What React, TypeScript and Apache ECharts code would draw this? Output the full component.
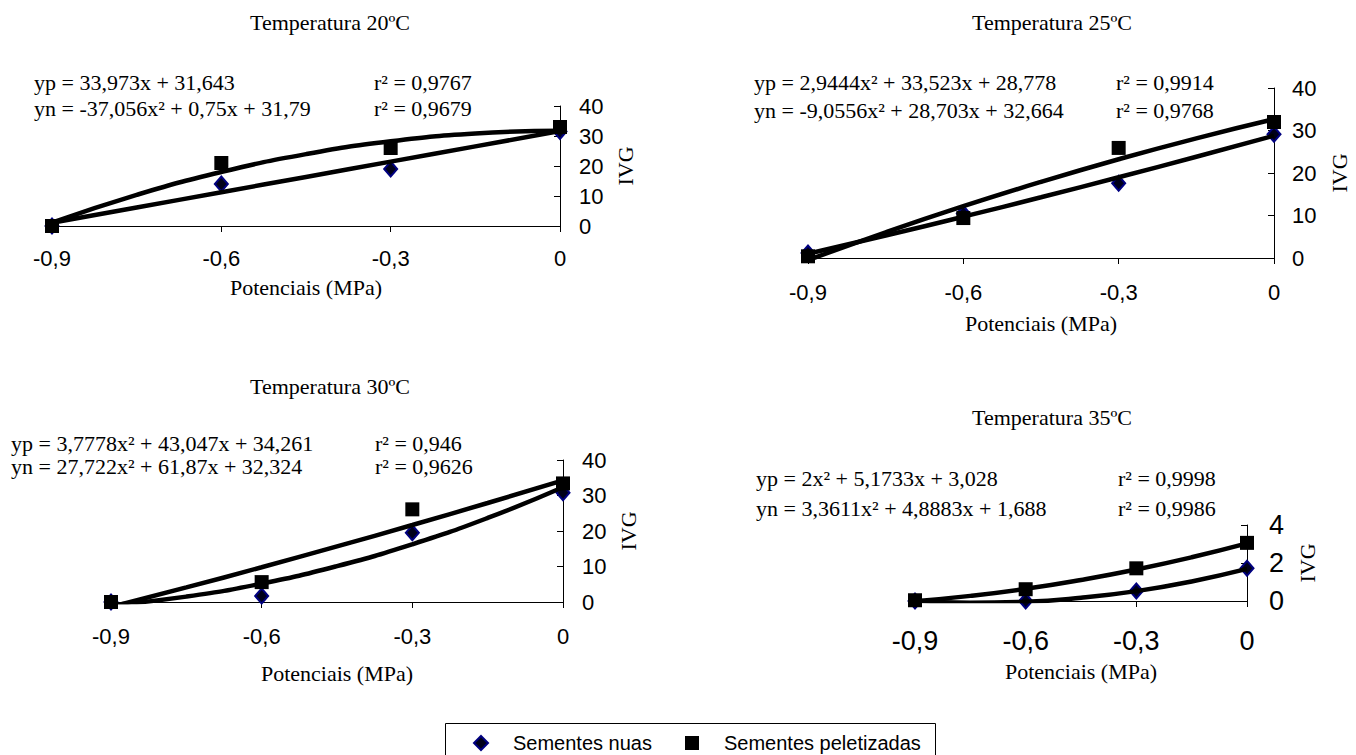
import React, { useEffect, useRef } from "react";
import * as echarts from "echarts";

// ---------- data ----------
const potenciais = [-0.9, -0.6, -0.3, 0];
const trendX = [-0.9, -0.75, -0.6, -0.45, -0.3, -0.15, 0];

// 20 ºC
const nuas20 = [0, 14, 19, 31.5];
const pelet20 = [0, 21, 26, 33];
const trendYp20 = [1.07, 6.17, 11.26, 16.35, 21.45, 26.55, 31.64];
const trendYn20 = [1.1, 10.38, 18.0, 23.95, 28.23, 30.84, 31.79];

// 25 ºC
const nuas25 = [1.2, 10.5, 17.6, 29.1];
const pelet25 = [0.4, 9.4, 25.9, 32];
const trendYp25 = [0.99, 5.29, 9.72, 14.29, 18.99, 23.82, 28.78];
const trendYn25 = [-0.5, 6.04, 12.18, 17.91, 23.24, 28.16, 32.66];

// 30 ºC
const nuas30 = [0, 1.7, 19.5, 30.8];
const pelet30 = [0, 5.6, 26.1, 33.4];
const trendYp30 = [-1.42, 4.1, 9.79, 15.66, 21.69, 27.89, 34.26];
const trendYn30 = [-0.9, 1.52, 5.18, 10.1, 16.26, 23.67, 32.32];

// 35 ºC
const nuas35 = [0, 0, 0.53, 1.72];
const pelet35 = [0.04, 0.62, 1.72, 3.06];
const trendYp35 = [-0.01, 0.27, 0.64, 1.11, 1.66, 2.3, 3.03];
const trendYn35 = [0.01, -0.09, -0.04, 0.17, 0.52, 1.03, 1.69];

const titles = ["Temperatura 20ºC", "Temperatura 25ºC", "Temperatura 30ºC", "Temperatura 35ºC"];
const eqYp = [
  "yp = 33,973x + 31,643",
  "yp = 2,9444x² + 33,523x + 28,778",
  "yp = 3,7778x² + 43,047x + 34,261",
  "yp = 2x² + 5,1733x + 3,028",
];
const eqYn = [
  "yn = -37,056x² + 0,75x + 31,79",
  "yn = -9,0556x² + 28,703x + 32,664",
  "yn = 27,722x² + 61,87x + 32,324",
  "yn = 3,3611x² + 4,8883x + 1,688",
];
const r2Yp = ["r² = 0,9767", "r² = 0,9914", "r² = 0,946", "r² = 0,9998"];
const r2Yn = ["r² = 0,9679", "r² = 0,9768", "r² = 0,9626", "r² = 0,9986"];
const legendNames = ["Sementes nuas", "Sementes peletizadas"];

// ---------- layout ----------
const SERIF = '"Liberation Serif", "Times New Roman", serif';
const SANS = '"Liberation Sans", Arial, sans-serif';
const TXT = 22;

const grids = [
  { left: 52, top: 106, width: 508, height: 120 },
  { left: 808, top: 88, width: 466, height: 170 },
  { left: 111, top: 460, width: 452, height: 142 },
  { left: 915, top: 525, width: 332, height: 76 },
];
const panelCfg = [
  { yMax: 40, yInt: 10, tickFont: 22, xMargin: 21, yMargin: 19, xNameGap: 50, yNameGap: 54,
    titleX: 330, titleY: 22, eqX: 34, eqY1: 82, eqY2: 108, r2X: 374 },
  { yMax: 40, yInt: 10, tickFont: 22, xMargin: 23, yMargin: 18, xNameGap: 54, yNameGap: 54,
    titleX: 1052, titleY: 22, eqX: 754, eqY1: 82, eqY2: 110, r2X: 1116 },
  { yMax: 40, yInt: 10, tickFont: 22, xMargin: 23, yMargin: 19, xNameGap: 60, yNameGap: 54,
    titleX: 330, titleY: 386, eqX: 11, eqY1: 443, eqY2: 466, r2X: 375 },
  { yMax: 4, yInt: 2, tickFont: 27, xMargin: 26, yMargin: 22, xNameGap: 59, yNameGap: 49,
    titleX: 1052, titleY: 417, eqX: 756, eqY1: 478, eqY2: 508, r2X: 1118 },
];

const allNuas = [nuas20, nuas25, nuas30, nuas35];
const allPelet = [pelet20, pelet25, pelet30, pelet35];
const allYp = [trendYp20, trendYp25, trendYp30, trendYp35];
const allYn = [trendYn20, trendYn25, trendYn30, trendYn35];

const fmtX = (v: number) => String(Math.round(v * 10) / 10).replace(".", ",");

export default function App() {
  const ref = useRef<HTMLDivElement>(null);
  useEffect(() => {
    document.body.style.margin = "0";
    if (!ref.current) return;
    const chart = echarts.init(ref.current, null, { renderer: "svg" });

    const xAxis = grids.map((_, i) => ({
      type: "value",
      gridIndex: i,
      min: -0.9,
      max: 0,
      interval: 0.3,
      axisLine: { show: true, onZero: false, lineStyle: { color: "#000", width: 1 } },
      axisTick: { show: true, inside: false, length: 6, lineStyle: { color: "#000" } },
      axisLabel: { color: "#000", fontFamily: SANS, fontSize: panelCfg[i].tickFont, margin: panelCfg[i].xMargin, formatter: fmtX },
      splitLine: { show: false },
      name: "Potenciais (MPa)",
      nameLocation: "middle",
      nameGap: panelCfg[i].xNameGap,
      nameTextStyle: { color: "#000", fontFamily: SERIF, fontSize: TXT },
    }));

    const yAxis = grids.map((_, i) => ({
      type: "value",
      gridIndex: i,
      position: "right",
      min: 0,
      max: panelCfg[i].yMax,
      interval: panelCfg[i].yInt,
      axisLine: { show: true, lineStyle: { color: "#000", width: 1 } },
      axisTick: { show: true, inside: true, length: 6, lineStyle: { color: "#000" } },
      axisLabel: { color: "#000", fontFamily: SANS, fontSize: panelCfg[i].tickFont, margin: panelCfg[i].yMargin },
      splitLine: { show: false },
      name: "IVG",
      nameLocation: "middle",
      nameGap: panelCfg[i].yNameGap,
      nameTextStyle: { color: "#000", fontFamily: SERIF, fontSize: TXT },
    }));

    const series: any[] = [];
    grids.forEach((_, i) => {
      series.push({
        type: "scatter",
        name: legendNames[0],
        xAxisIndex: i,
        yAxisIndex: i,
        symbol: "diamond",
        symbolSize: [13, 15],
        itemStyle: { color: "#00001a", borderColor: "#000080", borderWidth: 2, opacity: 1 },
        data: potenciais.map((x, j) => [x, allNuas[i][j]]),
        z: 2,
      });
      series.push({
        type: "scatter",
        name: legendNames[1],
        xAxisIndex: i,
        yAxisIndex: i,
        symbol: "rect",
        symbolSize: 14,
        itemStyle: { color: "#000", opacity: 1 },
        data: potenciais.map((x, j) => [x, allPelet[i][j]]),
        z: 2,
      });
      [allYp[i], allYn[i]].forEach((arr) => {
        series.push({
          type: "line",
          xAxisIndex: i,
          yAxisIndex: i,
          symbol: "none",
          smooth: true,
          clip: true,
          silent: true,
          lineStyle: { color: "#000", width: 4.5 },
          data: trendX.map((x, j) => [x, arr[j]]),
          z: 3,
        });
      });
    });

    const txt = (text: string, x: number, y: number, align: string) => ({
      type: "text",
      x,
      y,
      style: { text, fill: "#000", fontFamily: SERIF, fontSize: TXT, align, verticalAlign: "middle" },
    });
    const graphic: any[] = [];
    panelCfg.forEach((c, i) => {
      graphic.push(txt(titles[i], c.titleX, c.titleY, "center"));
      graphic.push(txt(eqYp[i], c.eqX, c.eqY1, "left"));
      graphic.push(txt(eqYn[i], c.eqX, c.eqY2, "left"));
      graphic.push(txt(r2Yp[i], c.r2X, c.eqY1, "left"));
      graphic.push(txt(r2Yn[i], c.r2X, c.eqY2, "left"));
    });
    graphic.push({
      type: "rect",
      shape: { x: 445.5, y: 723.5, width: 490, height: 40 },
      style: { fill: "#fff", stroke: "#000", lineWidth: 1 },
      z: -1,
    });

    chart.setOption({
      animation: false,
      backgroundColor: "#fff",
      grid: grids.map((g) => ({ ...g, outerBoundsMode: "none", containLabel: false })),
      xAxis,
      yAxis,
      series,
      graphic,
      legend: {
        data: [
          { name: legendNames[0], icon: "diamond" },
          { name: legendNames[1], icon: "rect" },
        ],
        left: 473,
        top: 733,
        padding: 0,
        itemWidth: 14,
        itemHeight: 14,
        itemGap: 33,
        selectedMode: false,
        textStyle: { color: "#000", fontFamily: SANS, fontSize: 20, padding: [0, 0, 0, 20] },
        z: 10,
      },
    });
    return () => chart.dispose();
  }, []);
  return <div ref={ref} style={{ width: 1356, height: 755 }} />;
}
